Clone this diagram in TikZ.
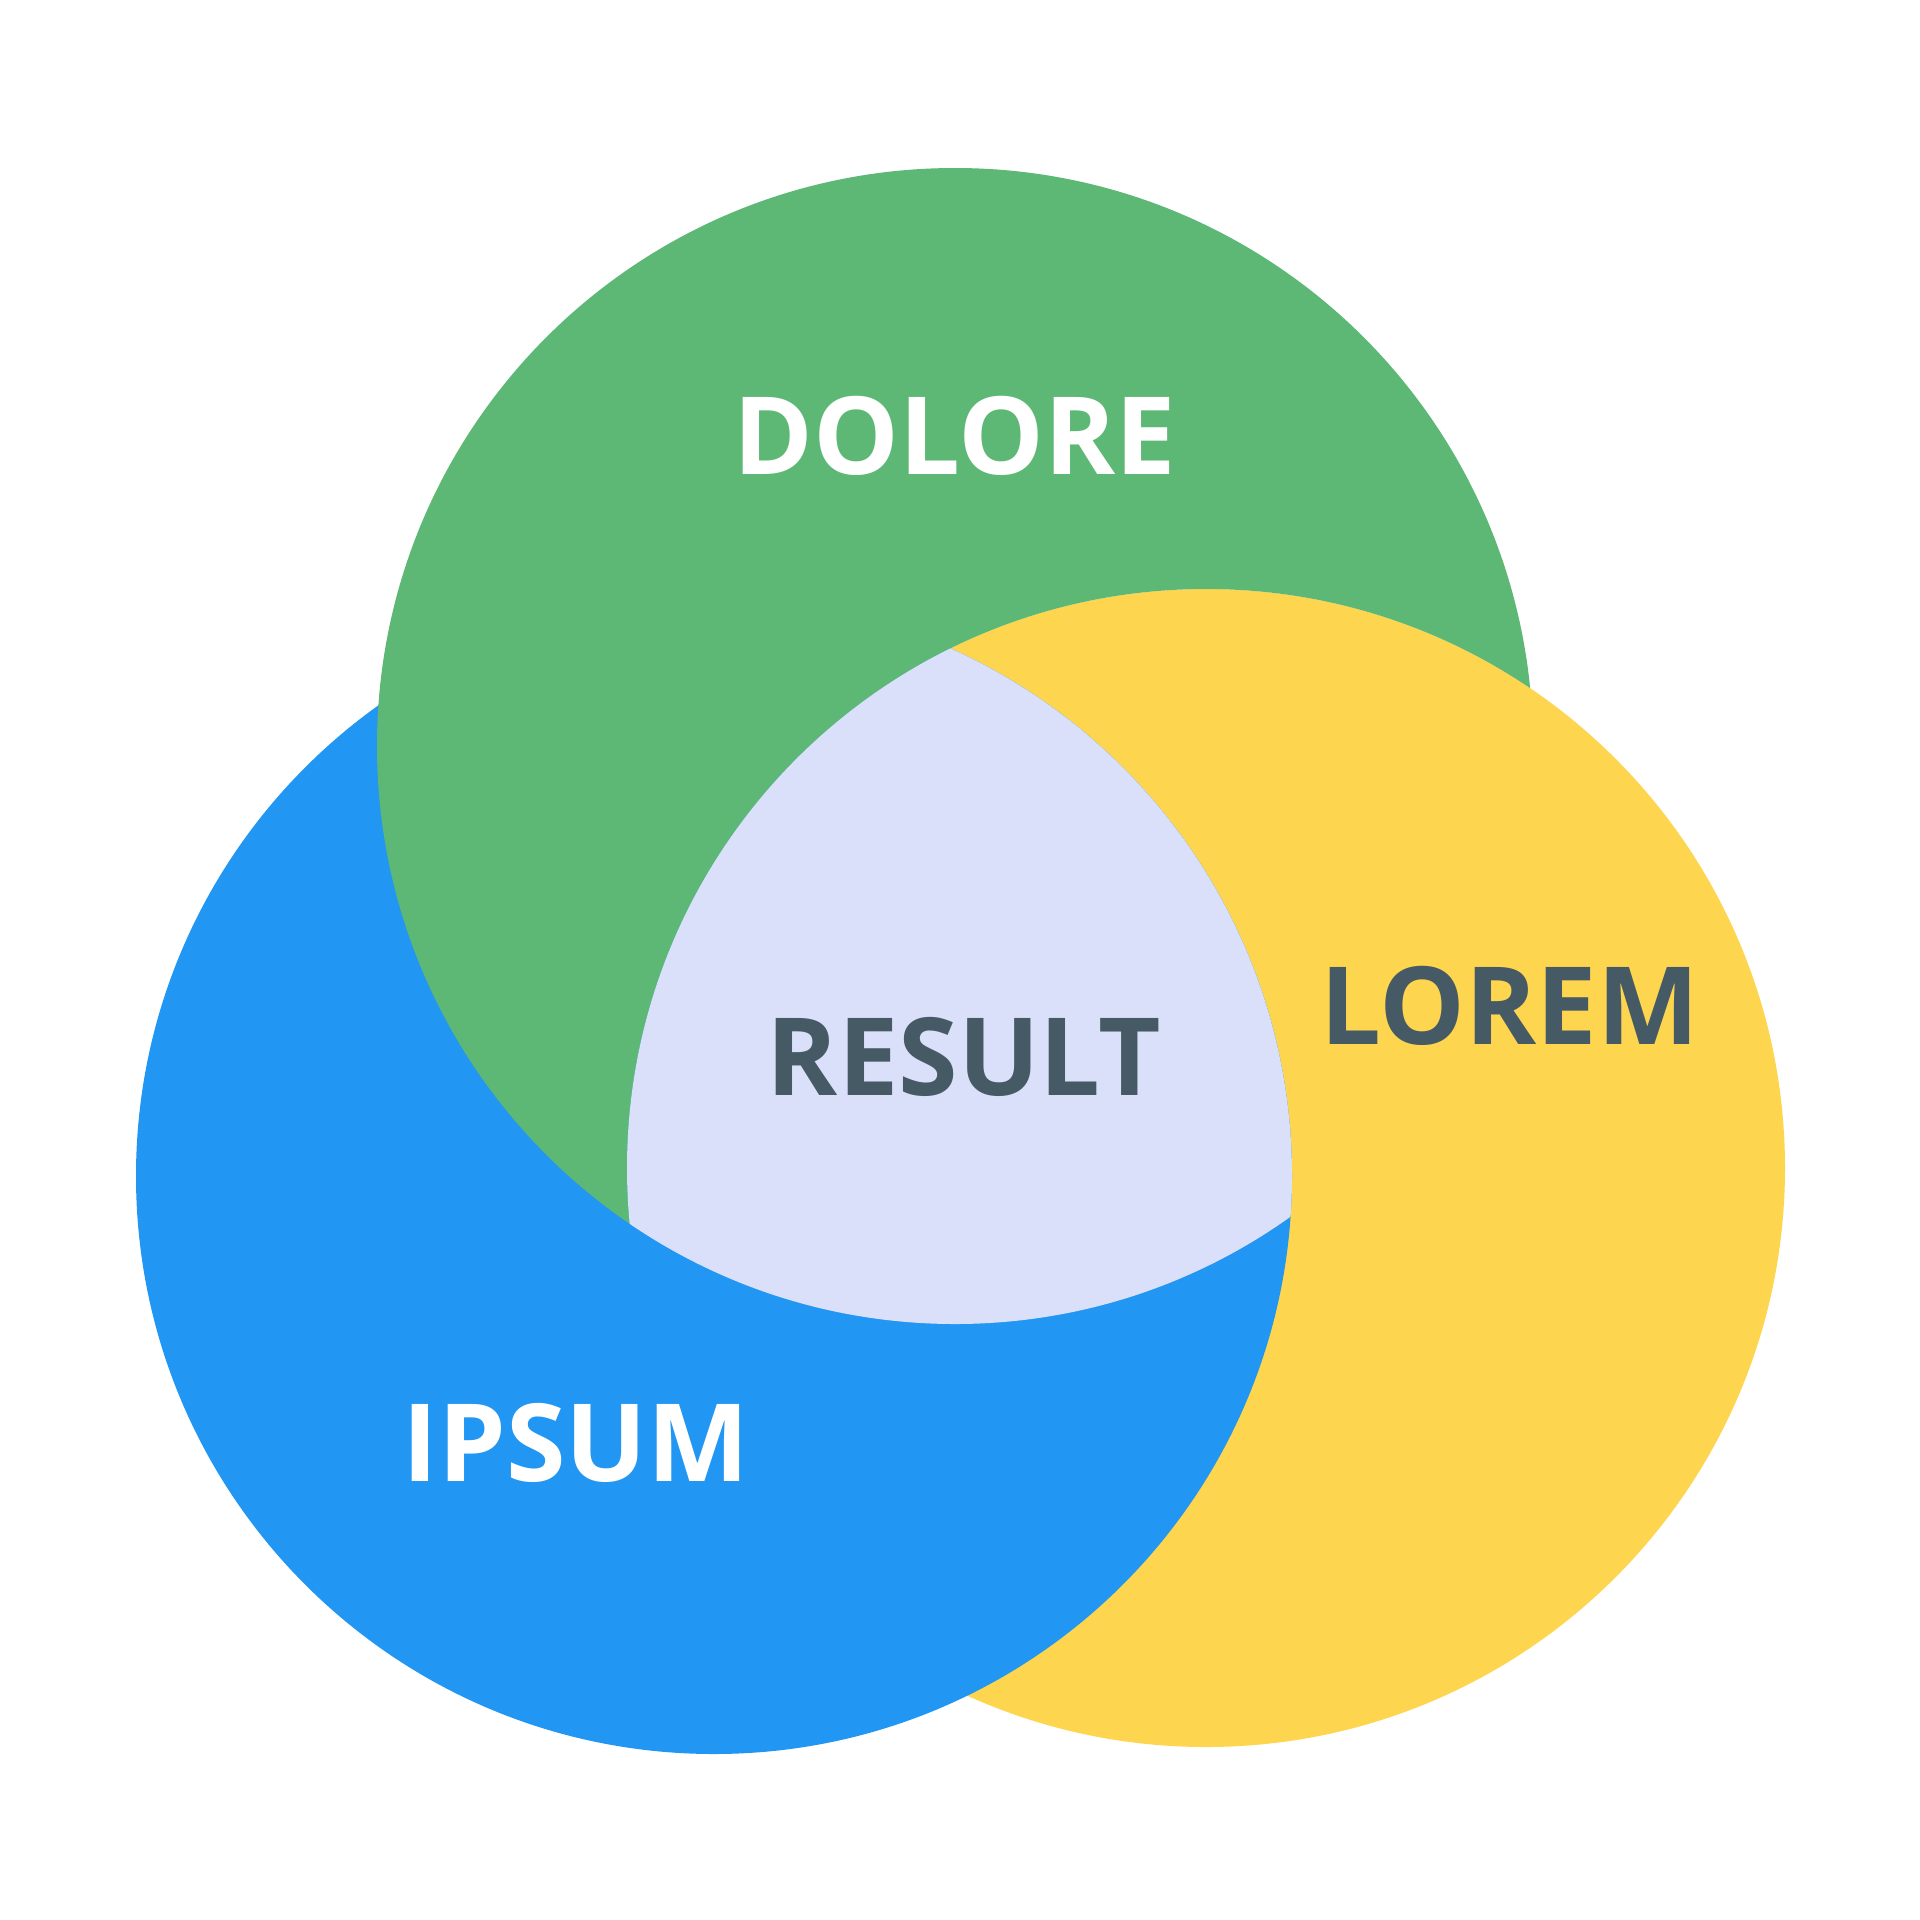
\documentclass[tikz,border=0pt]{standalone}
\usepackage{fontspec}
\setmainfont{Open Sans}
\definecolor{cgreen}{HTML}{5DB875}
\definecolor{cyellow}{HTML}{FED54E}
\definecolor{cblue}{HTML}{2196F3}
\definecolor{clav}{HTML}{DADFFA}
\definecolor{cdark}{HTML}{465A66}
\begin{document}
\begin{tikzpicture}[x=0.01cm,y=-0.01cm,
  lab/.style={font=\fontsize{30.7}{36}\selectfont\bfseries, inner sep=0pt, anchor=center}]
\useasboundingbox[fill=white] (0,0) rectangle (1920,1920);
\def\green{(955,746) circle[radius=578]}
\def\yellow{(1206,1168) circle[radius=579]}
\def\blue{(714,1176) circle[radius=578]}
% base layers
\fill[cyellow] \yellow;
\fill[cblue] \blue;
% green, except where yellow lies
\begin{scope}[even odd rule]
  \clip (-10,-10) rectangle (1930,1930) \yellow;
  \fill[cgreen] \green;
\end{scope}
% triple intersection
\begin{scope}
  \clip \green;
  \clip \yellow;
  \fill[clav] \blue;
\end{scope}
\node[lab, text=white] (dolore) at (955,436) {DOLORE};
\node[lab, text=cdark] (result) at (964,1057) {RESULT};
\node[lab, text=cdark] (lorem) at (1510,1006) {LOREM};
\node[lab, text=white] (ipsum) at (576,1443) {IPSUM};
\end{tikzpicture}
\end{document}
